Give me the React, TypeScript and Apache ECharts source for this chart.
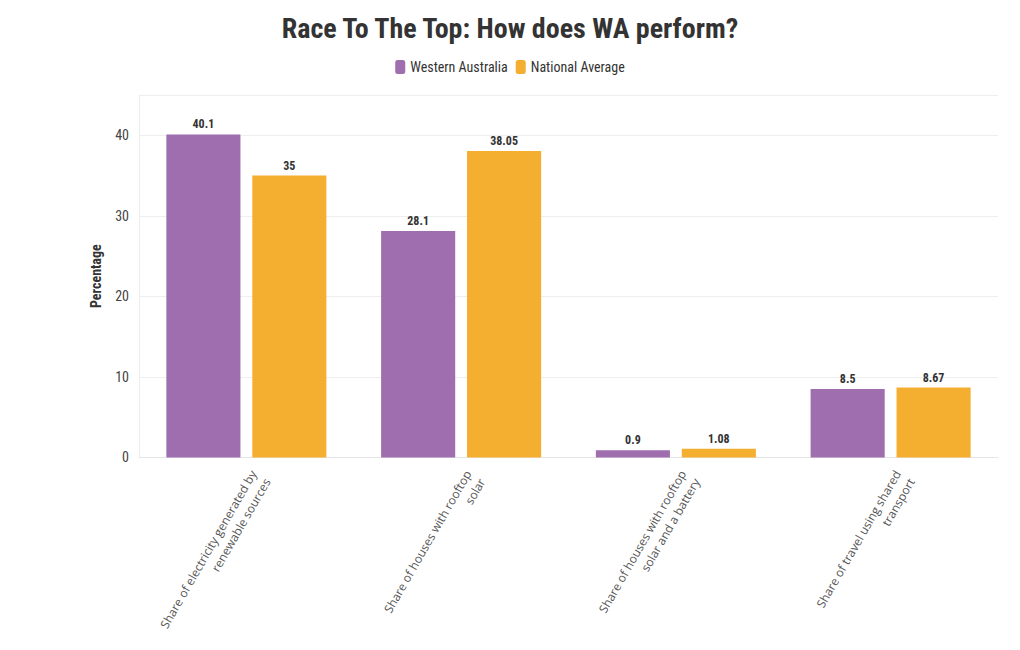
import React, { useEffect, useRef } from "react";
import * as echarts from "echarts";

const categories = [
  "Share of electricity generated by\nrenewable sources",
  "Share of houses with rooftop\nsolar",
  "Share of houses with rooftop\nsolar and a battery",
  "Share of travel using shared\ntransport",
];
const westernAustralia = [40.1, 28.1, 0.9, 8.5];
const nationalAverage = [35, 38.05, 1.08, 8.67];
const seriesNames = ["Western Australia", "National Average"];

const FONT = '"Roboto Condensed", "Liberation Sans Narrow", "DejaVu Sans Condensed", Roboto, sans-serif';

export default function App() {
  const ref = useRef<HTMLDivElement>(null);
  useEffect(() => {
    if (!ref.current) return;
    const chart = echarts.init(ref.current, null, { renderer: "svg" });
    const labelStyle = {
      show: true,
      position: "top" as const,
      fontFamily: FONT,
      fontWeight: "bold" as const,
      fontSize: 12,
      color: "#333",
      distance: 4,
    };
    chart.setOption({
      animation: false,
      textStyle: { fontFamily: FONT },
      title: {
        text: "Race To The Top: How does WA perform?",
        left: "center",
        top: 1,
        textStyle: { fontFamily: FONT, fontWeight: "bold", fontSize: 28, color: "#333" },
      },
      legend: {
        top: 47,
        left: "center",
        itemWidth: 10,
        itemHeight: 14,
        itemGap: 8,
        icon: "roundRect",
        textStyle: { fontFamily: FONT, fontSize: 14, color: "#333" },
        data: seriesNames,
      },
      grid: { left: 131, right: 14, top: 87, bottom: 184 },
      xAxis: {
        type: "category",
        data: categories,
        axisLine: { lineStyle: { color: "#e6e6e6" } },
        axisTick: { show: false },
        axisLabel: {
          rotate: 60,
          interval: 0,
          fontFamily: "'Open Sans', sans-serif",
          fontSize: 12,
          color: "#555",
          margin: 10,
          align: "right",
          verticalAlign: "top",
          lineHeight: 16,
        },
      },
      yAxis: {
        type: "value",
        min: 0,
        max: 45,
        interval: 10,
        name: "Percentage",
        nameLocation: "middle",
        nameGap: 36,
        nameRotate: 90,
        nameTextStyle: { fontFamily: FONT, fontWeight: "bold", fontSize: 14, color: "#333" },
        axisLine: { show: true, lineStyle: { color: "#ececec" } },
        axisTick: { show: false },
        splitLine: { lineStyle: { color: "#eeeeee" } },
        axisLabel: {
          fontFamily: FONT,
          fontSize: 14,
          color: "#444",
          margin: 10,
          showMaxLabel: false,
        },
      },
      series: [
        {
          name: seriesNames[0],
          type: "bar",
          data: westernAustralia,
          barWidth: "34.5%",
          barGap: "16%",
          itemStyle: { color: "#9e6eae" },
          label: labelStyle,
        },
        {
          name: seriesNames[1],
          type: "bar",
          data: nationalAverage,
          barWidth: "34.5%",
          itemStyle: { color: "#f4ae30" },
          label: labelStyle,
        },
      ],
    });
    return () => chart.dispose();
  }, []);
  return <div ref={ref} style={{ width: 1004, height: 634 }} />;
}
